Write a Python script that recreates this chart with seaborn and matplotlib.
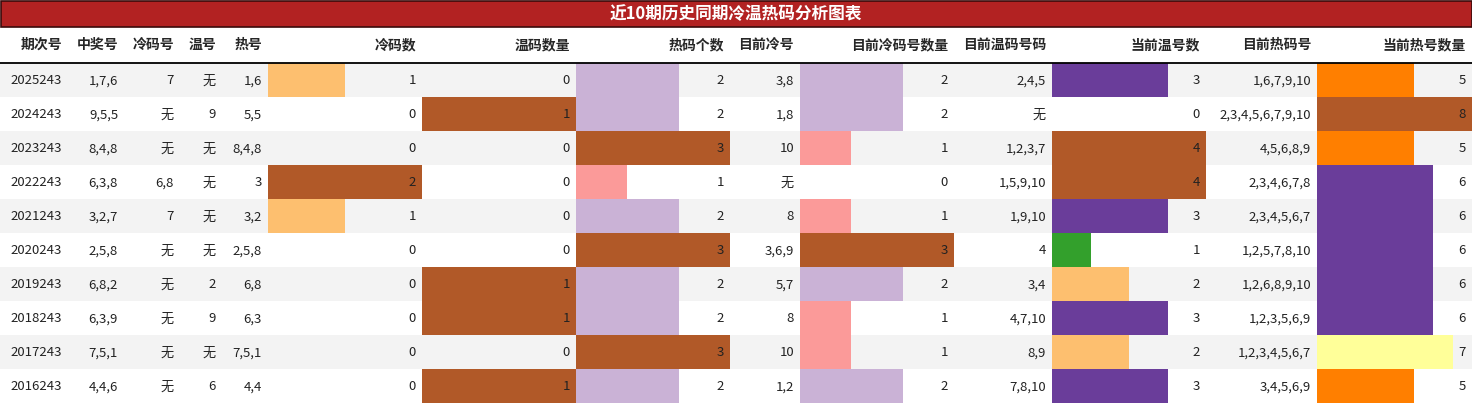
import numpy as np
import matplotlib
matplotlib.use("Agg")
import matplotlib.pyplot as plt
import seaborn as sns

sns.set_style("white")
plt.rcParams['font.family'] = ['Liberation Sans Narrow', 'Noto Sans CJK SC', 'DejaVu Sans']

# data
title = "近10期历史同期冷温热码分析图表"
headers = ["期次号", "中奖号", "冷码号", "温号", "热号", "冷码数", "温码数量", "热码个数",
           "目前冷号", "目前冷码号数量", "目前温码号码", "当前温号数", "目前热码号", "当前热号数量"]
period = ["2025243", "2024243", "2023243", "2022243", "2021243", "2020243", "2019243",
          "2018243", "2017243", "2016243"]
win = ["1,7,6", "9,5,5", "8,4,8", "6,3,8", "3,2,7", "2,5,8", "6,8,2", "6,3,9", "7,5,1", "4,4,6"]
cold = ["7", "无", "无", "6,8", "7", "无", "无", "无", "无", "无"]
warm = ["无", "9", "无", "无", "无", "无", "2", "9", "无", "6"]
hot = ["1,6", "5,5", "8,4,8", "3", "3,2", "2,5,8", "6,8", "6,3", "7,5,1", "4,4"]
cold_n = [1, 0, 0, 2, 1, 0, 0, 0, 0, 0]
warm_n = [0, 1, 0, 0, 0, 0, 1, 1, 0, 1]
hot_n = [2, 2, 3, 1, 2, 3, 2, 2, 3, 2]
cur_cold = ["3,8", "1,8", "10", "无", "8", "3,6,9", "5,7", "8", "10", "1,2"]
cur_cold_n = [2, 2, 1, 0, 1, 3, 2, 1, 1, 2]
cur_warm = ["2,4,5", "无", "1,2,3,7", "1,5,9,10", "1,9,10", "4", "3,4", "4,7,10", "8,9", "7,8,10"]
cur_warm_n = [3, 0, 4, 4, 3, 1, 2, 3, 2, 3]
cur_hot = ["1,6,7,9,10", "2,3,4,5,6,7,9,10", "4,5,6,8,9", "2,3,4,6,7,8", "2,3,4,5,6,7",
           "1,2,5,7,8,10", "1,2,6,8,9,10", "1,2,3,5,6,9", "1,2,3,4,5,6,7", "3,4,5,6,9"]
cur_hot_n = [5, 8, 5, 6, 6, 6, 6, 6, 7, 5]

columns = [period, win, cold, warm, hot, cold_n, warm_n, hot_n,
           cur_cold, cur_cold_n, cur_warm, cur_warm_n, cur_hot, cur_hot_n]
bar_cols = {5, 6, 7, 9, 11, 13}

# layout (pixels)
W, H = 1472, 404
edges = [0, 68, 124, 180, 222, 268, 422, 576, 730, 800, 954, 1052, 1206, 1317, 1472]
title_h, head_bot, row_h = 26, 62, 34
pal = sns.color_palette("Paired", 12)

fig = plt.figure(figsize=(W / 100, H / 100), dpi=100)
ax = fig.add_axes([0, 0, 1, 1])
ax.set_xlim(0, W)
ax.set_ylim(H, 0)
ax.axis("off")

# title bar
ax.add_patch(plt.Rectangle((0.5, 0.5), W - 1, title_h, facecolor="#b22222",
                           edgecolor="#3a0a0a", lw=1.2))
ax.text(W / 2, title_h / 2 + 1, title, color="white", fontsize=12, fontweight="bold",
        ha="center", va="center")

# header
for j, h in enumerate(headers):
    ax.text(edges[j + 1] - 6, (title_h + head_bot) / 2 + 1, h, fontsize=10, fontweight="bold",
            ha="right", va="center")
ax.plot([0, W], [head_bot + 0.5, head_bot + 0.5], color="black", lw=1.3)

# body
y0 = head_bot + 1
for i in range(len(period)):
    top = y0 + i * row_h
    if i % 2 == 0:
        ax.add_patch(plt.Rectangle((0, top), W, row_h, facecolor="#f3f3f3", lw=0))
for j, col in enumerate(columns):
    left, right = edges[j], edges[j + 1]
    if j in bar_cols:
        vals = np.array(col, dtype=float)
        frac = vals / vals.max()
        colors = [pal[min(int(f * 12), 11)] for f in frac]
        ax.barh([y0 + i * row_h + row_h / 2 for i in range(len(col))], frac * (right - left),
                left=left, height=row_h, color=colors, lw=0)
    for i, v in enumerate(col):
        ax.text(right - 6, y0 + i * row_h + row_h / 2 + 1, str(v), fontsize=9.5,
                ha="right", va="center", color="#222222")

fig.savefig("out.png", dpi=100)
